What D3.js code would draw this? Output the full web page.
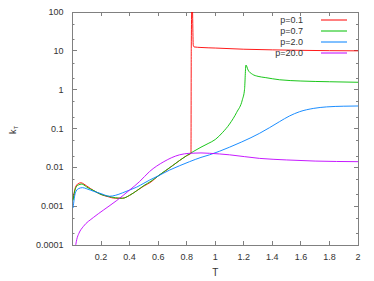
<!DOCTYPE html>
<html>
<head>
<meta charset="utf-8">
<script src="https://cdn.jsdelivr.net/npm/d3@7"></script>
<style>
  body { margin: 0; background: #fff; }
  svg text { font-family: "Liberation Sans", Arial, sans-serif; font-size: 9px; fill: #333; }
</style>
</head>
<body>
<div id="chart"></div>
<script>
// series data (T, k_T)
var seriesNames = ["p=0.1", "p=0.7", "p=2.0", "p=20.0"];
var seriesColors = ["#ff0000", "#00c000", "#0080ff", "#c000ff"];

var tP01 = [0.004, 0.02, 0.04, 0.06, 0.08, 0.1, 0.15, 0.2, 0.25, 0.3, 0.35, 0.4, 0.45, 0.5, 0.55, 0.6, 0.65, 0.7, 0.75, 0.8, 0.83, 0.832, 0.838, 0.846, 0.852, 0.9, 1.0, 1.2, 1.4, 1.6, 1.8, 2.0];
var kP01 = [0.0015, 0.003, 0.0038, 0.0040, 0.0037, 0.0033, 0.0025, 0.0020, 0.00175, 0.0016, 0.0016, 0.0019, 0.0025, 0.0033, 0.0042, 0.006, 0.008, 0.011, 0.015, 0.020, 0.023, 11.5, 300, 14, 12.6, 12.2, 11.8, 11, 10.6, 10.3, 10.1, 10.0];

var tP07 = [0.004, 0.02, 0.04, 0.065, 0.08, 0.1, 0.15, 0.2, 0.25, 0.3, 0.35, 0.4, 0.45, 0.5, 0.55, 0.6, 0.65, 0.7, 0.75, 0.8, 0.85, 0.9, 0.95, 1.0, 1.05, 1.1, 1.15, 1.19, 1.205, 1.215, 1.23, 1.26, 1.3, 1.35, 1.45, 1.6, 1.8, 2.0];
var kP07 = [0.0014, 0.0028, 0.0035, 0.0037, 0.0035, 0.0031, 0.0025, 0.0020, 0.0018, 0.00165, 0.0016, 0.0019, 0.0025, 0.0034, 0.0044, 0.006, 0.0082, 0.011, 0.015, 0.020, 0.026, 0.033, 0.041, 0.052, 0.078, 0.13, 0.26, 0.55, 1.0, 4.3, 3.2, 2.5, 2.2, 2.05, 1.8, 1.67, 1.6, 1.55];

var tP2 = [0.004, 0.02, 0.04, 0.07, 0.1, 0.15, 0.2, 0.26, 0.3, 0.35, 0.4, 0.45, 0.5, 0.54, 0.6, 0.68, 0.75, 0.82, 0.9, 0.96, 1.03, 1.1, 1.185, 1.25, 1.31, 1.38, 1.45, 1.52, 1.59, 1.69, 1.78, 1.9, 2.0];
var kP2 = [0.0009, 0.0022, 0.0028, 0.0030, 0.0028, 0.0024, 0.0021, 0.0018, 0.0019, 0.0022, 0.0026, 0.0031, 0.0039, 0.0047, 0.006, 0.0085, 0.011, 0.014, 0.018, 0.021, 0.026, 0.033, 0.045, 0.058, 0.075, 0.105, 0.15, 0.21, 0.27, 0.33, 0.36, 0.375, 0.38];

var tP20 = [0.016, 0.03, 0.045, 0.076, 0.146, 0.216, 0.31, 0.4, 0.47, 0.54, 0.64, 0.75, 0.82, 0.9, 0.96, 1.1, 1.31, 1.5, 1.7, 2.0];
var kP20 = [0.00007, 0.00014, 0.0002, 0.0003, 0.00051, 0.00079, 0.0014, 0.0026, 0.0043, 0.0078, 0.014, 0.021, 0.023, 0.0235, 0.023, 0.021, 0.017, 0.0155, 0.0145, 0.014];

var xTicks = [0.2, 0.4, 0.6, 0.8, 1, 1.2, 1.4, 1.6, 1.8, 2];
var yTicks = [0.0001, 0.001, 0.01, 0.1, 1, 10, 100];
var yTickLabels = ["0.0001", "0.001", "0.01", "0.1", "1", "10", "100"];

var W = 374, H = 281;
var margin = {left: 72.5, top: 12, right: 16, bottom: 36};
var width = W - margin.left - margin.right,
    height = H - margin.top - margin.bottom;

var svg = d3.select("#chart").append("svg")
    .attr("width", W).attr("height", H);

var x = d3.scaleLinear().domain([0, 2]).range([margin.left, margin.left + width]);
var y = d3.scaleLog().domain([0.0001, 100]).range([margin.top + height, margin.top]);

svg.append("defs").append("clipPath").attr("id", "clip")
  .append("rect")
    .attr("x", margin.left).attr("y", margin.top)
    .attr("width", width).attr("height", height);

// minor ticks at 2 and 5 of each decade
var minor = [];
yTicks.slice(0, -1).forEach(function(d) { minor.push(d * 2, d * 5); });

var tickColor = "#808080";
var g = svg.append("g");

// x ticks, bottom and top, pointing inward
xTicks.forEach(function(t) {
  g.append("line").attr("x1", x(t)).attr("x2", x(t))
    .attr("y1", y(0.0001)).attr("y2", y(0.0001) - 4)
    .attr("stroke", tickColor).attr("shape-rendering", "crispEdges");
  g.append("line").attr("x1", x(t)).attr("x2", x(t))
    .attr("y1", y(100)).attr("y2", y(100) + 4)
    .attr("stroke", tickColor).attr("shape-rendering", "crispEdges");
  g.append("text").attr("x", x(t)).attr("y", y(0.0001) + 15)
    .attr("text-anchor", "middle").text(d3.format("")(t));
});

// y ticks left and right
yTicks.forEach(function(t, i) {
  [[x(0), 4], [x(2), -4]].forEach(function(s) {
    g.append("line").attr("x1", s[0]).attr("x2", s[0] + s[1])
      .attr("y1", y(t)).attr("y2", y(t))
      .attr("stroke", tickColor).attr("shape-rendering", "crispEdges");
  });
  g.append("text").attr("x", x(0) - 9).attr("y", y(t) + 3)
    .attr("text-anchor", "end").text(yTickLabels[i]);
});
minor.forEach(function(t) {
  [[x(0), 2], [x(2), -2]].forEach(function(s) {
    g.append("line").attr("x1", s[0]).attr("x2", s[0] + s[1])
      .attr("y1", Math.round(y(t)) + 0.5).attr("y2", Math.round(y(t)) + 0.5)
      .attr("stroke", tickColor);
  });
});

// border
g.append("rect")
  .attr("x", x(0)).attr("y", y(100))
  .attr("width", x(2) - x(0)).attr("height", y(0.0001) - y(100))
  .attr("fill", "none").attr("stroke", tickColor)
  .attr("shape-rendering", "crispEdges");

// axis titles
svg.append("text").attr("x", x(1)).attr("y", 276)
  .attr("text-anchor", "middle").style("font-size", "10px").text("T");
svg.append("text")
  .attr("transform", "translate(16,130) rotate(-90)")
  .attr("text-anchor", "middle").style("font-size", "9px")
  .html('k<tspan dy="2" style="font-size:6px">T</tspan>');

// curves
var allT = [tP01, tP07, tP2, tP20];
var allK = [kP01, kP07, kP2, kP20];
var line = d3.line()
  .x(function(d) { return x(d[0]); })
  .y(function(d) { return y(d[1]); })
  .curve(d3.curveMonotoneX);

var plot = svg.append("g").attr("clip-path", "url(#clip)");
allT.forEach(function(ts, i) {
  var pts = ts.map(function(t, j) { return [t, allK[i][j]]; });
  plot.append("path").datum(pts)
    .attr("d", line)
    .attr("fill", "none")
    .attr("stroke", seriesColors[i])
    .attr("stroke-width", 0.9);
});

// legend
var legend = svg.append("g");
seriesNames.forEach(function(name, i) {
  var ly = 20 + i * 11;
  legend.append("text").attr("x", 303).attr("y", ly + 3)
    .attr("text-anchor", "end").text(name);
  legend.append("line").attr("x1", 321).attr("x2", 347)
    .attr("y1", ly).attr("y2", ly)
    .attr("stroke", seriesColors[i]).attr("stroke-width", 1);
});
</script>
</body>
</html>
